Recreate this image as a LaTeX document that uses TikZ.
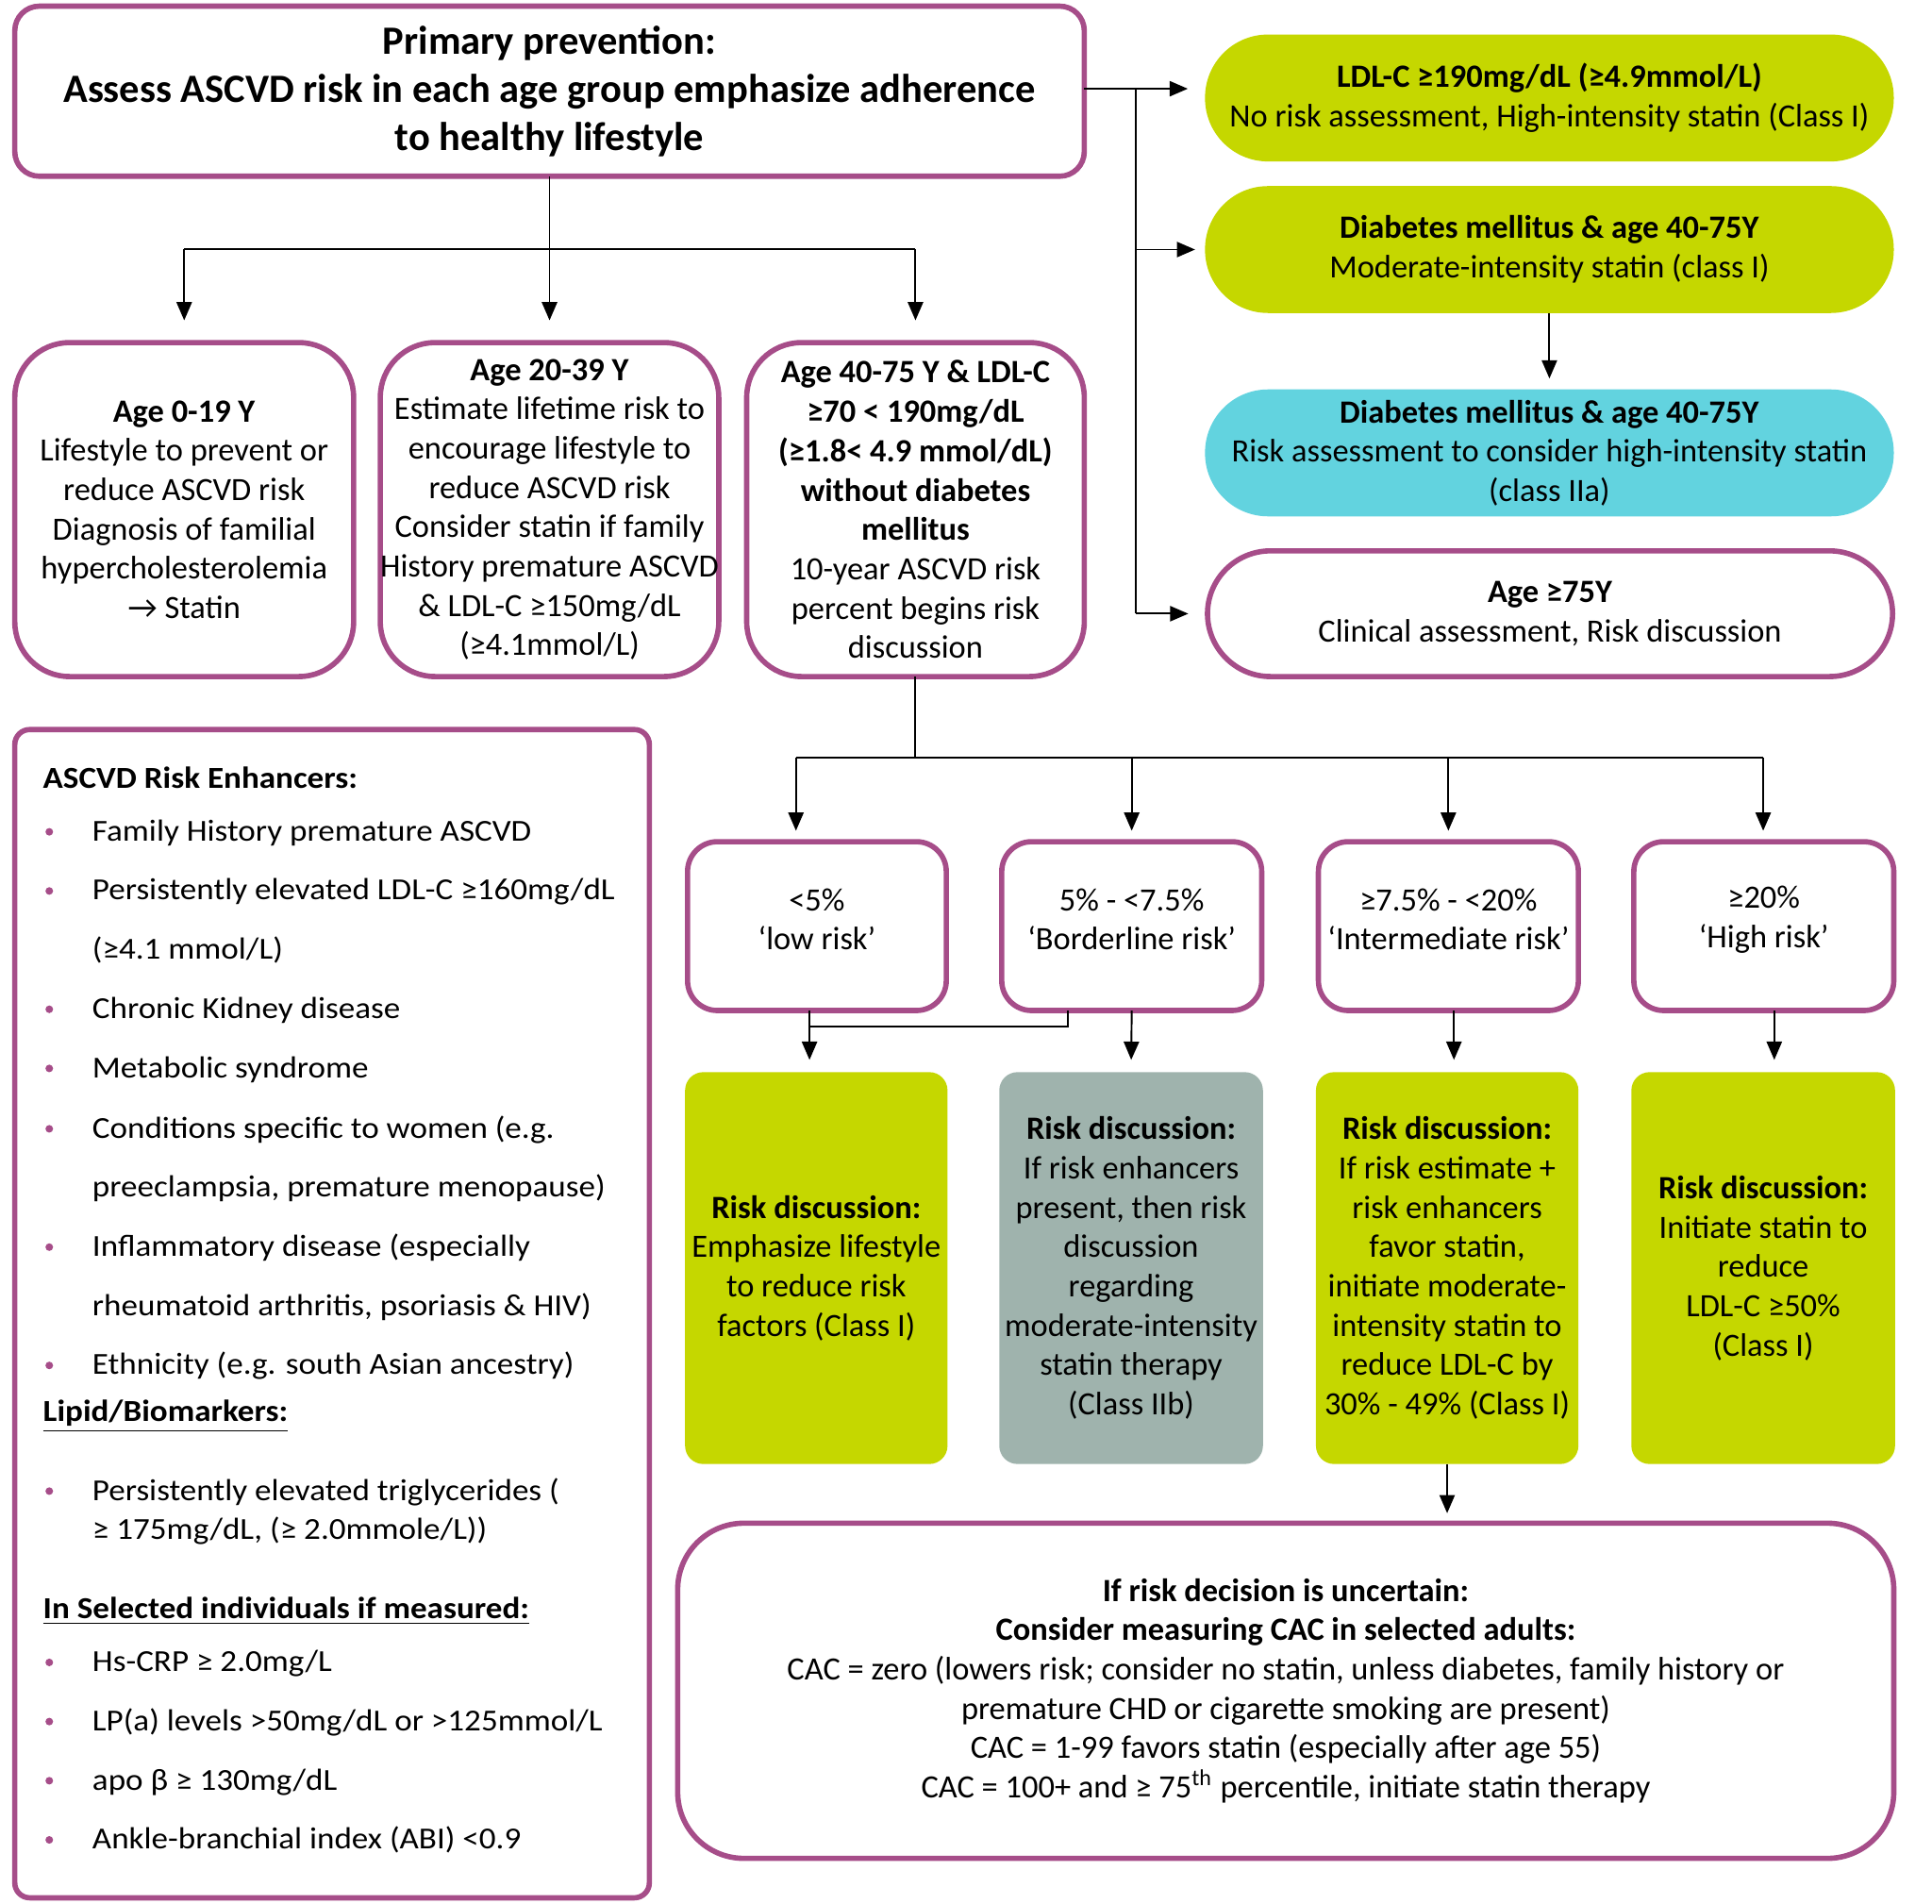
\documentclass[tikz,border=0pt]{standalone}
\usepackage{fontspec}
\setmainfont{Carlito}
\newfontfamily\widefont[FakeStretch=1.085]{Carlito}
\usetikzlibrary{arrows.meta,calc}
\definecolor{pp}{HTML}{A64D89}
\definecolor{lime}{HTML}{C5D700}
\definecolor{cyanb}{HTML}{62D3DF}
\definecolor{greyb}{HTML}{9FB3AD}
\newdimen\U \U=0.37163pt
\newcommand\bodyfont{\fontsize{9.8pt}{11.86pt}\selectfont}
\newcommand\topfont{\fontsize{12.1pt}{14.45pt}\selectfont\bfseries}
\newcommand\leftfont{\widefont\fontsize{9.2pt}{11pt}\selectfont}
\begin{document}
\begin{tikzpicture}[x=0.0130612cm,y=-0.0130612cm,
  every node/.style={inner sep=0pt,outer sep=0pt},
  pbox/.style={draw=pp,line width=1.6pt,fill=white,align=center,font=\bodyfont},
  fbox/.style={align=center,font=\bodyfont},
  ln/.style={line width=0.55pt,black},
  arr/.style={ln,-{Triangle[length=5.5pt,width=4.6pt]}},
  ltxt/.style={anchor=west,font=\leftfont,text height=1.6ex,text depth=.45ex},
  bul/.style={circle,fill=pp,minimum size=2.3pt}]
\useasboundingbox (0,0) rectangle (1568,1545);

% top box
\node[pbox,font=\topfont,rounded corners=7.4pt,minimum width=868*\U,minimum height=138*\U] (top) at (446,74)
 {Primary prevention:\\Assess ASCVD risk in each age group emphasize adherence\\to healthy lifestyle};

% right column
\node[fbox,fill=lime,rounded corners=19pt,minimum width=559*\U,minimum height=103*\U] (ldl) at (1257.5,79.5)
 {\textbf{LDL-C ≥190mg/dL (≥4.9mmol/L)}\\No risk assessment, High-intensity statin (Class I)};
\node[fbox,fill=lime,rounded corners=19pt,minimum width=559*\U,minimum height=103*\U] (dia1) at (1257.5,202.5)
 {\textbf{Diabetes mellitus \& age 40-75Y}\\Moderate-intensity statin (class I)};
\node[fbox,fill=cyanb,rounded corners=19pt,minimum width=559*\U,minimum height=103*\U] (dia2) at (1257.5,367.5)
 {\textbf{Diabetes mellitus \& age 40-75Y}\\Risk assessment to consider high-intensity statin\\(class IIa)};
\node[pbox,rounded corners=19pt,minimum width=556*\U,minimum height=102*\U] (age75) at (1258,498)
 {\textbf{Age ≥75Y}\\Clinical assessment, Risk discussion};

% age boxes
\node[pbox,rounded corners=16.5pt,minimum width=275*\U,minimum height=271*\U] (a1) at (149.5,413.5)
 {\textbf{Age 0-19 Y}\\Lifestyle to prevent or\\reduce ASCVD risk\\Diagnosis of familial\\hypercholesterolemia\\→ Statin};
\node[pbox,rounded corners=16.5pt,minimum width=274*\U,minimum height=271*\U] (a2) at (446,413.5)
 {\textbf{Age 20-39 Y}\\Estimate lifetime risk to\\encourage lifestyle to\\reduce ASCVD risk\\Consider statin if family\\History premature ASCVD\\\& LDL-C ≥150mg/dL\\(≥4.1mmol/L)};
\node[pbox,rounded corners=16.5pt,minimum width=274*\U,minimum height=271*\U] (a3) at (743,413.5)
 {\textbf{Age 40-75 Y \& LDL-C}\\\textbf{≥70 < 190mg/dL}\\\textbf{(≥1.8< 4.9 mmol/dL)}\\\textbf{without diabetes}\\\textbf{mellitus}\\10-year ASCVD risk\\percent begins risk\\discussion};

% risk boxes
\node[pbox,rounded corners=9pt,minimum width=210*\U,minimum height=137*\U] (r1) at (663,751.5) {};
\node[pbox,rounded corners=9pt,minimum width=211*\U,minimum height=137*\U] (r2) at (918.5,751.5) {};
\node[pbox,rounded corners=9pt,minimum width=211*\U,minimum height=137*\U] (r3) at (1175.5,751.5) {};
\node[pbox,rounded corners=9pt,minimum width=211*\U,minimum height=137*\U] (r4) at (1431.5,751.5) {};
\node[fbox] (r1t) at (663,746) {<5\%\\‘low risk’};
\node[fbox] (r2t) at (918.5,746) {5\% - <7.5\%\\‘Borderline risk’};
\node[fbox] (r3t) at (1175.5,746) {≥7.5\% - <20\%\\‘Intermediate risk’};
\node[fbox] (r4t) at (1431.5,746) {≥20\%\\‘High risk’};

% discussion boxes
\node[fbox,fill=lime,rounded corners=5.5pt,minimum width=213*\U,minimum height=318*\U] (d1) at (662.5,1029)
 {\textbf{Risk discussion:}\\Emphasize lifestyle\\to reduce risk\\factors (Class I)};
\node[fbox,fill=greyb,rounded corners=5.5pt,minimum width=214*\U,minimum height=318*\U] (d2) at (918,1029)
 {\textbf{Risk discussion:}\\If risk enhancers\\present, then risk\\discussion\\regarding\\moderate-intensity\\statin therapy\\(Class IIb)};
\node[fbox,fill=lime,rounded corners=5.5pt,minimum width=213*\U,minimum height=318*\U] (d3) at (1174.5,1029)
 {\textbf{Risk discussion:}\\If risk estimate +\\risk enhancers\\favor statin,\\initiate moderate-\\intensity statin to\\reduce LDL-C by\\30\% - 49\% (Class I)};
\node[fbox,fill=lime,rounded corners=5.5pt,minimum width=214*\U,minimum height=318*\U] (d4) at (1431,1029)
 {\textbf{Risk discussion:}\\Initiate statin to\\reduce\\LDL-C ≥50\%\\(Class I)};

% CAC box
\node[pbox,rounded corners=20pt,minimum width=987*\U,minimum height=272*\U] (cac) at (1043.5,1372)
 {\textbf{If risk decision is uncertain:}\\\textbf{Consider measuring CAC in selected adults:}\\CAC = zero (lowers risk; consider no statin, unless diabetes, family history or\\premature CHD or cigarette smoking are present)\\CAC = 1-99 favors statin (especially after age 55)\\CAC = 100+ and ≥ 75\textsuperscript{th} percentile, initiate statin therapy};

% left box
\node[pbox,rounded corners=4.5pt,minimum width=515*\U,minimum height=948*\U] (lbox) at (269.5,1066) {};
\node[ltxt] (h1) at (35,632) {\bfseries ASCVD Risk Enhancers:};
\node[bul] (b1) at (40,675) {}; \node[ltxt] (l1) at (75,675) {Family History premature ASCVD};
\node[bul] (b2) at (40,723) {}; \node[ltxt] (l2) at (75,723) {Persistently elevated LDL-C ≥160mg/dL};
\node[ltxt] (l2b) at (75,771) {(≥4.1 mmol/L)};
\node[bul] (b3) at (40,819) {}; \node[ltxt] (l3) at (75,819) {Chronic Kidney disease};
\node[bul] (b4) at (40,867) {}; \node[ltxt] (l4) at (75,867) {Metabolic syndrome};
\node[bul] (b5) at (40,916) {}; \node[ltxt] (l5) at (75,916) {Conditions specific to women (e.g.};
\node[ltxt] (l5b) at (75,964) {preeclampsia, premature menopause)};
\node[bul] (b6) at (40,1012) {}; \node[ltxt] (l6) at (75,1012) {Inflammatory disease (especially};
\node[ltxt] (l6b) at (75,1060) {rheumatoid arthritis, psoriasis \& HIV)};
\node[bul] (b7) at (40,1108) {}; \node[ltxt] (l7) at (75,1108) {Ethnicity (e.g. south Asian ancestry)};
\node[ltxt] (h2) at (35,1146) {\bfseries\underline{Lipid/Biomarkers:}};
\node[bul] (b8) at (40,1210) {}; \node[ltxt] (l8) at (75,1210) {Persistently elevated triglycerides (};
\node[ltxt] (l8b) at (75,1242) {≥ 175mg/dL, (≥ 2.0mmole/L))};
\node[ltxt] (h3) at (35,1306) {\bfseries\underline{In Selected individuals if measured:}};
\node[bul] (b9) at (40,1349) {}; \node[ltxt] (l9) at (75,1349) {Hs-CRP ≥ 2.0mg/L};
\node[bul] (b10) at (40,1397) {}; \node[ltxt] (l10) at (75,1397) {LP(a) levels >50mg/dL or >125mmol/L};
\node[bul] (b11) at (40,1445) {}; \node[ltxt] (l11) at (75,1445) {apo β ≥ 130mg/dL};
\node[bul] (b12) at (40,1493) {}; \node[ltxt] (l12) at (75,1493) {Ankle-branchial index (ABI) <0.9};

% connectors: top -> age boxes
\coordinate (jt) at (446,202);
\draw[ln] (top.south) -- (jt);
\draw[ln] (jt -| a1.north) -- (jt -| a3.north);
\draw[arr,shorten >=6.7pt] (jt -| a1.north) -- (a1.north);
\draw[arr,shorten >=6.7pt] (jt) -- (a2.north);
\draw[arr,shorten >=6.7pt] (jt -| a3.north) -- (a3.north);

% connectors: top -> right column
\coordinate (rv) at (922,72);
\draw[ln] (top.east |- rv) -- (rv) -- (rv |- age75.west);
\draw[arr,shorten >=5.2pt] (rv) -- (rv -| ldl.west);
\draw[arr,shorten >=3pt] (rv |- dia1.west) -- (dia1.west);
\draw[arr,shorten >=5.8pt] (rv |- age75.west) -- (age75.west);
\draw[arr,shorten >=3.3pt] (dia1.south) -- (dia2.north);

% connectors: a3 -> risk boxes
\coordinate (jr) at (743,615);
\coordinate (jr1) at (646,615);
\coordinate (jr4) at (1431,615);
\draw[ln] (a3.south) -- (jr);
\draw[ln] (jr1) -- (jr4);
\draw[arr,shorten >=3.3pt] (jr1) -- (jr1 |- r1.north);
\draw[arr,shorten >=3.3pt] (jr -| r2.north) -- (r2.north);
\draw[arr,shorten >=3.3pt] (jr -| r3.north) -- (r3.north);
\draw[arr,shorten >=3.3pt] (jr4) -- (jr4 |- r4.north);

% connectors: risk -> discussion
\coordinate (c1) at (657,833);
\coordinate (c2) at (867,833);
\coordinate (c3) at (1180,840);
\coordinate (c4) at (1440,840);
\draw[arr,shorten >=3.7pt] (r1.south -| c1) -- (d1.north -| c1);
\draw[ln] (r2.south -| c2) -- (c2) -- (c1);
\draw[arr,shorten >=3.7pt] (r2.south) -- (d2.north);
\draw[arr,shorten >=3.7pt] (r3.south -| c3) -- (d3.north -| c3);
\draw[arr,shorten >=3.7pt] (r4.south -| c4) -- (d4.north -| c4);
\draw[arr,shorten >=3pt] (d3.south) -- (cac.north -| d3.south);
\end{tikzpicture}
\end{document}
